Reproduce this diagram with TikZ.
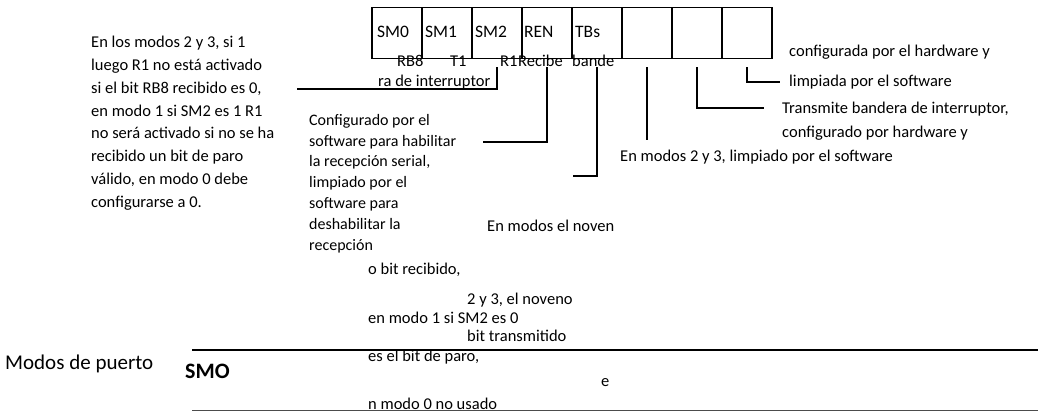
\documentclass[tikz,border=0pt]{standalone}
\usepackage{fontspec}
\setmainfont{Carlito}
\begin{document}
\begin{tikzpicture}[x=1pt,y=-1pt,
  txt/.style={font=\fontsize{16.5}{22}\selectfont, inner sep=0, anchor=west},
  blk/.style={font=\fontsize{16.5}{#1}\selectfont, inner sep=0, anchor=north west, align=left},
  lbl/.style={txt, font=\fontsize{17.5}{20}\selectfont},
  cell/.style={draw, line width=1.6pt, minimum width=50pt, minimum height=51pt, inner sep=0, outer sep=0},
  conn/.style={line width=1.8pt},
  rule/.style={line width=1.6pt},
  thinrule/.style={line width=1pt, draw=black!70},
]
\useasboundingbox (0,0) rectangle (1038,419);
% register cells
\foreach \i in {1,...,8} \node[cell] (c\i) at ({347+50*\i},33) {};
% cell labels
\node[lbl] (l1) at (377,32) {SM0};
\node[lbl] (l2) at (425,32) {SM1};
\node[lbl] (l3) at (475,32) {SM2};
\node[lbl] (l4) at (524,32) {REN};
\node[lbl] (l5) at (575,32) {TBs};
% second row
\node[txt] (rb8) at (397,61) {RB8};
\node[txt] (t1) at (450,61) {T1};
\node[txt] (r1) at (500,61) {R1};
\node[txt] (rec) at (518,61) {Recibe};
\node[txt] (ban) at (572,61) {bande};
% connector start points
\foreach \i in {3,...,8} \coordinate (s\i) at ([yshift=-9pt]c\i.south);
\coordinate (e3) at (297,89);
\coordinate (e4) at (483,142);
\coordinate (e5) at (573,176);
\coordinate (e6) at (647,140);
\coordinate (e7) at (764,108);
\coordinate (e8) at (780,82);
\draw[conn] (s3) |- (e3);
\draw[conn] (s4) |- (e4);
\draw[conn] (s5) |- (e5);
\draw[conn] (s6) -- (e6);
\draw[conn] (s7) |- (e7);
\draw[conn] (s8) |- (e8);
\node[txt] (rai) at (378,82) {ra de interruptor};
% right texts
\node[txt] (cf1) at (789,52) {configurada por el hardware y};
\node[txt] (cf2) at (789,82) {limpiada por el software};
\node[txt] (tr1) at (782,109) {Transmite bandera de interruptor,};
\node[txt] (tr2) at (782,133) {configurado por hardware y};
\node[txt] (em1) at (620,157) {En modos 2 y 3, limpiado por el software};
% left block
\node[blk=22.8] (left) at (91,36) {En los modos 2 y 3, si 1\\luego R1 no está activado\\si el bit RB8 recibido es 0,\\en modo 1 si SM2 es 1 R1\\no será activado si no se ha\\recibido un bit de paro\\válido, en modo 0 debe\\configurarse a 0.};
% config block
\node[blk=20.8, font=\fontsize{16}{20.8}\selectfont] (cfg) at (309,114) {Configurado por el\\software para habilitar\\la recepción serial,\\limpiado por el\\software para\\deshabilitar la\\recepción};
% lower texts
\node[txt] (n1) at (487,226) {En modos el noven};
\node[txt] (n2) at (368,270) {o bit recibido,};
\node[txt] (n3) at (467,300) {2 y 3, el noveno};
\node[txt] (n4) at (368,318) {en modo 1 si SM2 es 0};
\node[txt] (n5) at (467,336) {bit transmitido};
\coordinate (tl) at (192,350);
\coordinate (tr) at (1038,350);
\draw[rule] (tl) -- (tr);
\node[txt] (n6) at (368,357) {es el bit de paro,};
\node[txt, font=\fontsize{21}{24}\selectfont] (mp) at (5,364) {Modos de puerto};
\node[txt, font=\fontsize{22}{24}\selectfont\bfseries] (smo) at (185,371) {SMO};
\node[txt] (ee) at (601,383) {e};
\node[txt] (n7) at (368,404) {n modo 0 no usado};
\coordinate (bl) at (192,410);
\coordinate (br) at (1038,410);
\draw[thinrule] (bl) -- (br);
\end{tikzpicture}
\end{document}
